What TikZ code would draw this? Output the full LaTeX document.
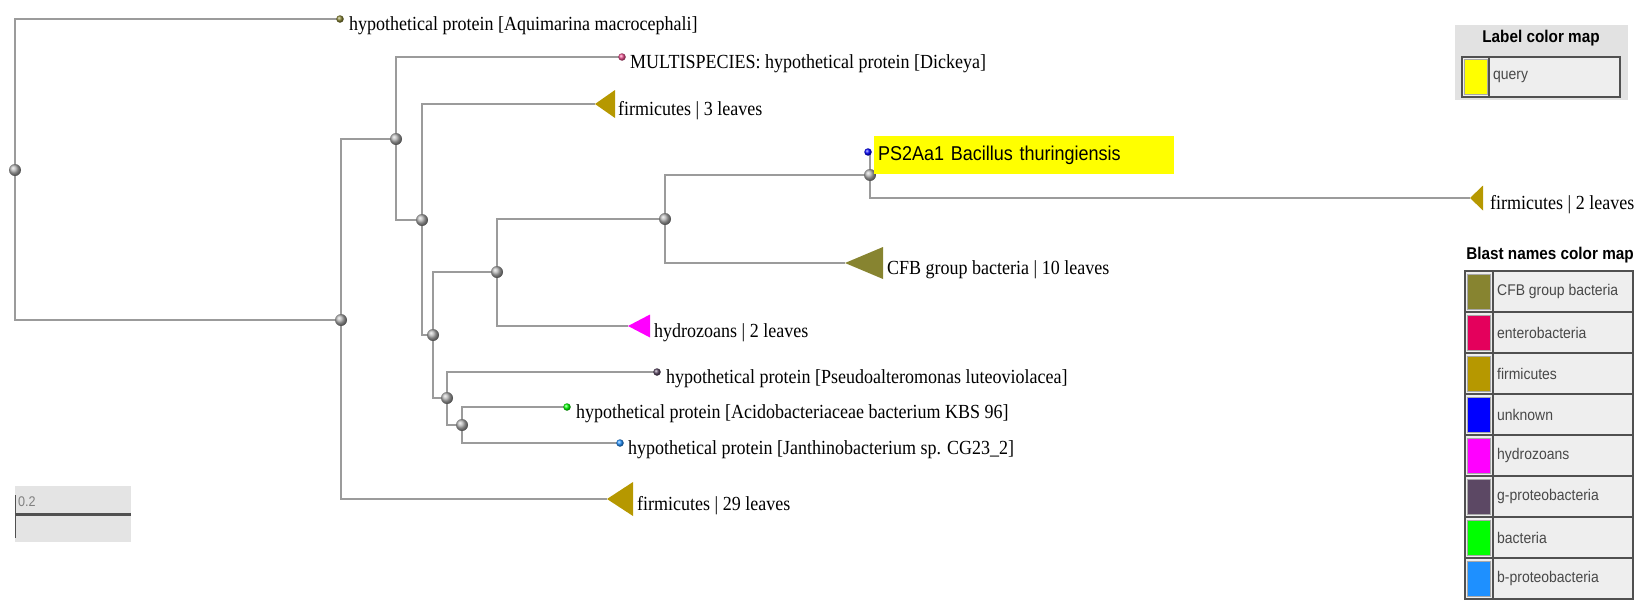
\documentclass[tikz,border=0pt]{standalone}
\usepackage{fontspec}
\setmainfont{Liberation Serif}[FakeStretch=0.9]
\newfontfamily\keyfont{Liberation Sans}[FakeStretch=0.9]
\usetikzlibrary{positioning}

\pgfdeclarelayer{back}
\pgfsetlayers{back,main}

\definecolor{branch}{RGB}{155,155,155}
\definecolor{cfb}{RGB}{135,132,48}
\definecolor{entero}{RGB}{228,0,92}
\definecolor{firmi}{RGB}{182,152,0}
\definecolor{unknown}{RGB}{0,0,255}
\definecolor{hydro}{RGB}{255,0,255}
\definecolor{gproteo}{RGB}{92,72,100}
\definecolor{bact}{RGB}{0,255,0}
\definecolor{bproteo}{RGB}{30,144,255}
\definecolor{querycol}{RGB}{255,255,0}
\definecolor{keyedge}{RGB}{80,80,80}
\definecolor{keyfill}{RGB}{238,238,238}
\definecolor{keyhead}{RGB}{226,226,226}
\definecolor{scalefill}{RGB}{228,228,228}

\begin{document}
\begin{tikzpicture}[
    x=1pt, y=-1pt,
    branchline/.style={draw=branch, line width=2pt},
    joint/.style={circle, inner sep=0pt, minimum size=12pt, ball color=gray!60},
    leaf/.style={circle, inner sep=0pt, minimum size=7.5pt},
    leaftext/.style={anchor=base west, inner sep=0pt, font=\fontsize{20}{24}\selectfont},
    query/.style={
        fill=querycol, anchor=west, text width=292pt, minimum height=38pt,
        inner xsep=4pt, align=left, font=\keyfont\fontsize{20}{24}\selectfont
    },
    keyrow/.style={
        draw=keyedge, line width=1.5pt, fill=keyfill, minimum width=168pt,
        minimum height=41pt, inner sep=0pt, outer sep=0pt, anchor=north west
    },
    swatch/.style={draw=keyedge!50, line width=1pt, minimum width=23pt, minimum height=35pt, inner sep=0pt, anchor=west},
    keytext/.style={anchor=west, inner sep=0pt, text=keyedge!90!black, font=\keyfont\fontsize{15.5}{18}\selectfont},
    keytitle/.style={inner sep=0pt, font=\keyfont\bfseries\fontsize{17}{20}\selectfont}
]

\useasboundingbox (0,0) rectangle (1646,600);

% -------------------------
% Inner Nodes
% -------------------------
\node[joint] (Root) at (15,170) {};
\node[joint] (NodeA) at (341,320) {};
\node[joint] (NodeB) at (396,139) {};
\node[joint] (NodeC) at (422,220) {};
\node[joint] (NodeD) at (433,335) {};
\node[joint] (NodeE) at (497,272) {};
\node[joint] (NodeF) at (665,219) {};
\node[joint] (NodeH) at (870,175) {};
\node[joint] (NodeG) at (447,398) {};
\node[joint] (NodeK) at (462,425) {};

% -------------------------
% Leaves
% -------------------------
\node[leaf, ball color=cfb] (Aquimarina) at (340,19) {};
\node[leaf, ball color=entero!70] (Dickeya) at (622,57) {};
\coordinate (FirmA) at (595,104);
\node[leaf, ball color=unknown] (Query) at (868,152) {};
\coordinate (FirmB) at (1470,198);
\coordinate (CFB) at (845,263);
\coordinate (Hydro) at (628,326);
\node[leaf, ball color=gproteo] (Pseudo) at (657,372) {};
\node[leaf, ball color=bact] (Acido) at (567,407) {};
\node[leaf, ball color=bproteo] (Jantho) at (620,443) {};
\coordinate (FirmC) at (607,499);

% -------------------------
% Branches
% -------------------------
\begin{pgfonlayer}{back}
\draw[branchline] (Root.center) |- (Aquimarina.center);
\draw[branchline] (Root.center) |- (NodeA.center);
\draw[branchline] (NodeA.center) |- (NodeB.center);
\draw[branchline] (NodeA.center) |- (FirmC);
\draw[branchline] (NodeB.center) |- (Dickeya.center);
\draw[branchline] (NodeB.center) |- (NodeC.center);
\draw[branchline] (NodeC.center) |- (FirmA);
\draw[branchline] (NodeC.center) |- (NodeD.center);
\draw[branchline] (NodeD.center) |- (NodeE.center);
\draw[branchline] (NodeD.center) |- (NodeG.center);
\draw[branchline] (NodeE.center) |- (NodeF.center);
\draw[branchline] (NodeE.center) |- (Hydro);
\draw[branchline] (NodeF.center) |- (NodeH.center);
\draw[branchline] (NodeF.center) |- (CFB);
\draw[branchline] (NodeH.center) |- (Query.center);
\draw[branchline] (NodeH.center) |- (FirmB);
\draw[branchline] (NodeG.center) |- (Pseudo.center);
\draw[branchline] (NodeG.center) |- (NodeK.center);
\draw[branchline] (NodeK.center) |- (Acido.center);
\draw[branchline] (NodeK.center) |- (Jantho.center);
\end{pgfonlayer}

% collapsed subtrees
\fill[firmi] (FirmA) -- ++(20,-14) -- ++(0,28) -- cycle;
\fill[firmi] (FirmB) -- ++(13,-12.5) -- ++(0,25) -- cycle;
\fill[cfb] (CFB) -- ++(38,-16) -- ++(0,32) -- cycle;
\fill[hydro] (Hydro) -- ++(22,-11.5) -- ++(0,23) -- cycle;
\fill[firmi] (FirmC) -- ++(26,-17) -- ++(0,34) -- cycle;

% -------------------------
% Labels
% -------------------------
\node[leaftext] (AquimarinaText) at ([xshift=9pt, yshift=-11pt]Aquimarina.center) {hypothetical protein [Aquimarina macrocephali]};
\node[leaftext] (DickeyaText) at ([xshift=8pt, yshift=-11pt]Dickeya.center) {MULTISPECIES: hypothetical protein [Dickeya]};
\node[leaftext] (FirmAText) at ([xshift=23pt, yshift=-11pt]FirmA) {firmicutes | 3 leaves};
\node[query] (QueryText) at (874,155) {PS2Aa1 Bacillus thuringiensis};
\node[leaftext] (FirmBText) at ([xshift=20pt, yshift=-11pt]FirmB) {firmicutes | 2 leaves};
\node[leaftext] (CFBText) at ([xshift=42pt, yshift=-11pt]CFB) {CFB group bacteria | 10 leaves};
\node[leaftext] (HydroText) at ([xshift=26pt, yshift=-11pt]Hydro) {hydrozoans | 2 leaves};
\node[leaftext] (PseudoText) at ([xshift=9pt, yshift=-11pt]Pseudo.center) {hypothetical protein [Pseudoalteromonas luteoviolacea]};
\node[leaftext] (AcidoText) at ([xshift=9pt, yshift=-11pt]Acido.center) {hypothetical protein [Acidobacteriaceae bacterium KBS 96]};
\node[leaftext] (JanthoText) at ([xshift=8pt, yshift=-11pt]Jantho.center) {hypothetical protein [Janthinobacterium sp. CG23\_2]};
\node[leaftext] (FirmCText) at ([xshift=30pt, yshift=-11pt]FirmC) {firmicutes | 29 leaves};

% -------------------------
% Scale bar
% -------------------------
\node[fill=scalefill, minimum width=116pt, minimum height=56pt, inner sep=0pt] (ScaleBox) at (73,514) {};
\draw[keyedge, line width=3pt] (ScaleBox.west) -- (ScaleBox.east);
\draw[keyedge, line width=1pt] ([xshift=1pt, yshift=19pt]ScaleBox.west) -- ([xshift=1pt, yshift=-24pt]ScaleBox.west);
\node[anchor=west, inner sep=0pt, text=gray, font=\keyfont\fontsize{14}{16}\selectfont] (ScaleText) at ([xshift=3pt, yshift=12pt]ScaleBox.west) {0.2};

% -------------------------
% Label color map
% -------------------------
\fill[keyhead] (1455,25) rectangle (1628,100);
\node[keytitle] (LabelTitle) at (1541,38) {Label color map};
\node[keyrow, minimum width=158pt, minimum height=40pt] (RowQuery) at (1462,57) {};
\node[swatch, fill=querycol] at ([xshift=2pt]RowQuery.west) {};
\draw[keyedge, line width=1.5pt] ([xshift=27pt]RowQuery.north west) -- ([xshift=27pt]RowQuery.south west);
\node[keytext] at ([xshift=31pt]RowQuery.west) {query};

% -------------------------
% Blast names color map
% -------------------------
\node[keytitle] (BlastTitle) at (1550,255) {Blast names color map};
\node[keyrow] (RowCFB) at (1465,271) {};
\node[keyrow, below=0pt of RowCFB] (RowEntero) {};
\node[keyrow, below=0pt of RowEntero] (RowFirmi) {};
\node[keyrow, below=0pt of RowFirmi] (RowUnknown) {};
\node[keyrow, below=0pt of RowUnknown] (RowHydro) {};
\node[keyrow, below=0pt of RowHydro] (RowGproteo) {};
\node[keyrow, below=0pt of RowGproteo] (RowBact) {};
\node[keyrow, below=0pt of RowBact] (RowBproteo) {};

\node[swatch, fill=cfb] at ([xshift=2pt]RowCFB.west) {};
\node[swatch, fill=entero] at ([xshift=2pt]RowEntero.west) {};
\node[swatch, fill=firmi] at ([xshift=2pt]RowFirmi.west) {};
\node[swatch, fill=unknown] at ([xshift=2pt]RowUnknown.west) {};
\node[swatch, fill=hydro] at ([xshift=2pt]RowHydro.west) {};
\node[swatch, fill=gproteo] at ([xshift=2pt]RowGproteo.west) {};
\node[swatch, fill=bact] at ([xshift=2pt]RowBact.west) {};
\node[swatch, fill=bproteo] at ([xshift=2pt]RowBproteo.west) {};

\node[keytext] at ([xshift=32pt]RowCFB.west) {CFB group bacteria};
\node[keytext] at ([xshift=32pt]RowEntero.west) {enterobacteria};
\node[keytext] at ([xshift=32pt]RowFirmi.west) {firmicutes};
\node[keytext] at ([xshift=32pt]RowUnknown.west) {unknown};
\node[keytext] at ([xshift=32pt]RowHydro.west) {hydrozoans};
\node[keytext] at ([xshift=32pt]RowGproteo.west) {g-proteobacteria};
\node[keytext] at ([xshift=32pt]RowBact.west) {bacteria};
\node[keytext] at ([xshift=32pt]RowBproteo.west) {b-proteobacteria};

\draw[keyedge, line width=1.5pt] ([xshift=28pt]RowCFB.north west) -- ([xshift=28pt]RowBproteo.south west);

\end{tikzpicture}
\end{document}
